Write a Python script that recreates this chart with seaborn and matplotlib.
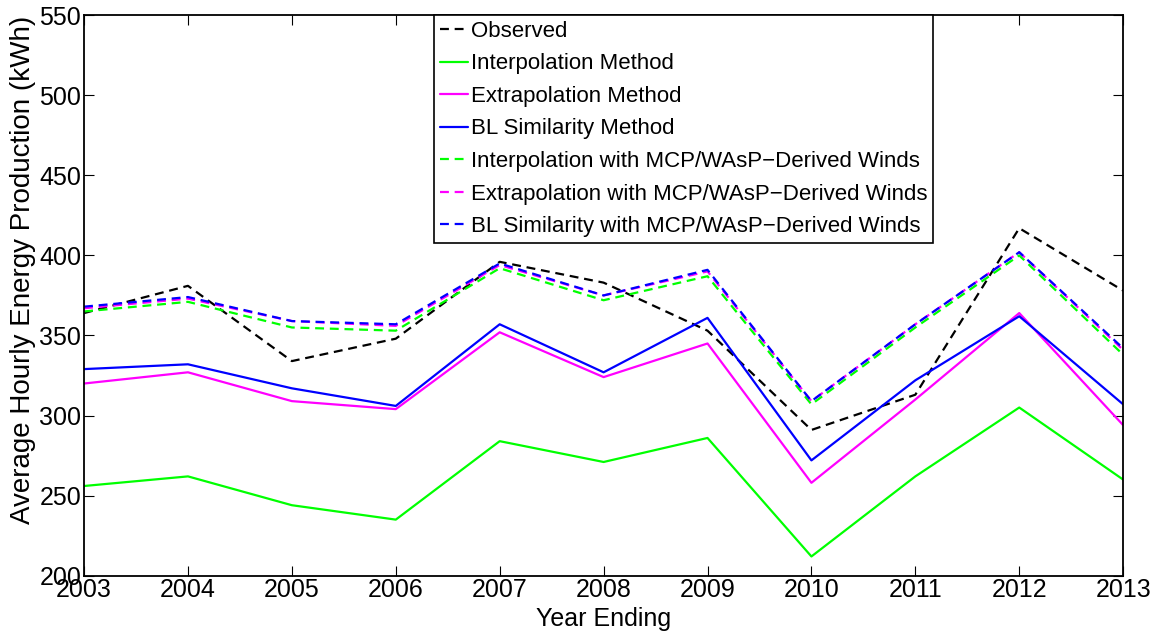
import matplotlib
matplotlib.use("Agg")
import matplotlib.pyplot as plt
import seaborn as sns
import pandas as pd

years = [2003, 2004, 2005, 2006, 2007, 2008, 2009, 2010, 2011, 2012, 2013]
observed = [364, 381, 334, 348, 396, 383, 353, 291, 313, 417, 378]
interp = [256, 262, 244, 235, 284, 271, 286, 212, 262, 305, 260]
extrap = [320, 327, 309, 304, 352, 324, 345, 258, 310, 364, 294]
bl_sim = [329, 332, 317, 306, 357, 327, 361, 272, 322, 362, 307]
interp_mcp = [365, 371, 355, 353, 392, 372, 387, 307, 355, 400, 338]
extrap_mcp = [367, 373, 359, 356, 394, 375, 390, 309, 357, 402, 341]
bl_mcp = [368, 374, 359, 357, 395, 375, 391, 309, 357, 402, 342]

labels = ["Observed", "Interpolation Method", "Extrapolation Method",
          "BL Similarity Method",
          "Interpolation with MCP/WAsP\u2212Derived Winds",
          "Extrapolation with MCP/WAsP\u2212Derived Winds",
          "BL Similarity with MCP/WAsP\u2212Derived Winds"]
series = [observed, interp, extrap, bl_sim, interp_mcp, extrap_mcp, bl_mcp]
colors = ["black", "#00ff00", "#ff00ff", "#0000ff", "#00ff00", "#ff00ff", "#0000ff"]
dashed = [True, False, False, False, True, True, True]

sns.set_style("ticks", {"text.color": "black", "axes.labelcolor": "black",
                        "xtick.color": "black", "ytick.color": "black",
                        "axes.edgecolor": "black"})
plt.rcParams["font.family"] = ["Liberation Sans", "DejaVu Sans"]

fig = plt.figure(figsize=(11.61, 6.34), dpi=100)
ax = fig.add_axes([0.0724, 0.092, 0.8950, 0.884])

for lab, vals, col, d in zip(labels, series, colors, dashed):
    df = pd.DataFrame({"year": years, "value": vals})
    ls = (0, (4.0, 2.6)) if d else "-"
    sns.lineplot(data=df, x="year", y="value", ax=ax, color=col,
                 linestyle=ls, linewidth=1.6, label=lab)

ax.set_xlim(2003, 2013)
ax.set_ylim(200, 550)
ax.set_xticks(years)
ax.set_yticks(range(200, 551, 50))
ax.tick_params(axis="both", direction="in", length=7.5, width=0.8,
               labelsize=18, top=True, right=True, pad=2, colors="black")
for s in ax.spines.values():
    s.set_linewidth(1.3)
    s.set_color("black")
    s.set_visible(True)
ax.set_xlabel("Year Ending", fontsize=18, labelpad=3, color="black")
ax.set_ylabel("Average Hourly Energy Production (kWh)", fontsize=20, color="black")
ax.yaxis.set_label_coords(-0.046, 0.545)

leg = ax.legend(loc="upper center", bbox_to_anchor=(0.577, 1.0), fontsize=16,
                handlelength=1.26, handletextpad=0.15, labelspacing=0.52,
                borderpad=0.25, borderaxespad=0.0, frameon=True, fancybox=False,
                framealpha=1.0)
leg.get_frame().set_edgecolor("black")
leg.get_frame().set_linewidth(1.2)
for t in leg.get_texts():
    t.set_color("black")

fig.savefig("out.png", dpi=100)
